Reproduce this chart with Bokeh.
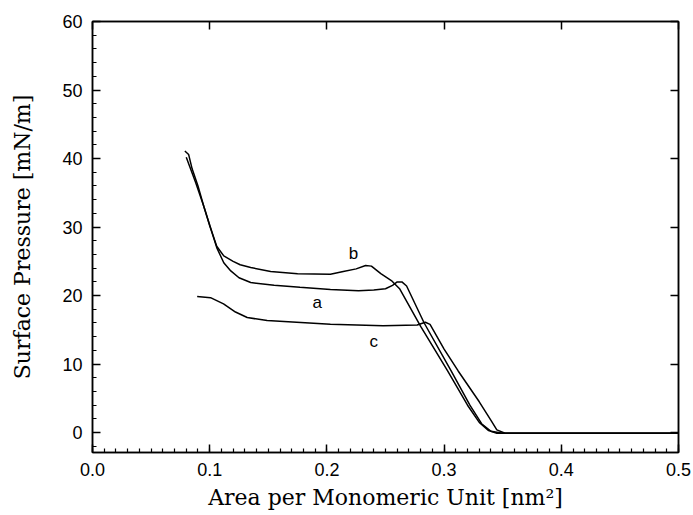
from bokeh.plotting import figure
from bokeh.models import (LinearAxis, SingleIntervalTicker, PrintfTickFormatter,
                          CustomJSTickFormatter, Range1d, Label)
from bokeh.embed import file_html
from bokeh.resources import INLINE

# Curve data (area per monomeric unit [nm^2], surface pressure [mN/m])
a_x = [0.0788, 0.082, 0.085, 0.090, 0.095, 0.100, 0.106, 0.112, 0.118, 0.125,
       0.135, 0.155, 0.177, 0.203, 0.227, 0.240, 0.250, 0.256, 0.260, 0.264,
       0.268, 0.283, 0.306, 0.322, 0.332, 0.340, 0.350, 0.500]
a_y = [41.1, 40.6, 38.5, 36.0, 33.0, 30.3, 27.0, 24.8, 23.6, 22.6,
       21.9, 21.5, 21.2, 20.9, 20.7, 20.8, 21.0, 21.5, 22.0, 22.0,
       21.4, 16.0, 9.0, 4.0, 1.3, 0.2, -0.1, -0.1]

b_x = [0.080, 0.088, 0.095, 0.100, 0.106, 0.112, 0.120, 0.126, 0.135, 0.152,
       0.175, 0.203, 0.214, 0.225, 0.233, 0.238, 0.246, 0.255, 0.262, 0.280,
       0.303, 0.320, 0.330, 0.338, 0.345, 0.500]
b_y = [40.2, 36.5, 33.0, 30.2, 27.2, 25.8, 25.0, 24.5, 24.1, 23.5,
       23.2, 23.1, 23.5, 23.9, 24.4, 24.3, 23.2, 22.2, 21.0, 15.5,
       9.0, 4.0, 1.5, 0.3, -0.1, -0.1]

c_x = [0.0893, 0.1007, 0.1118, 0.122, 0.132, 0.149, 0.203, 0.248, 0.277, 0.284,
       0.288, 0.300, 0.312, 0.330, 0.340, 0.345, 0.352, 0.500]
c_y = [19.85, 19.7, 18.8, 17.6, 16.8, 16.35, 15.8, 15.6, 15.7, 16.1,
       15.8, 12.2, 9.0, 4.5, 1.8, 0.4, -0.1, -0.1]

labels = ["a", "b", "c"]
label_x = [0.1917, 0.2227, 0.240]
label_y = [19.0, 26.1, 13.3]

x_title = "Area per Monomeric Unit [nm\u00b2]"
y_title = "Surface Pressure [mN/m]"

p = figure(width=693, height=515, output_backend="svg", toolbar_location=None,
           x_range=Range1d(0.0, 0.5), y_range=Range1d(-2.9, 60),
           min_border_left=92, min_border_right=15, min_border_top=21,
           min_border_bottom=63, x_axis_location=None, y_axis_location=None)
p.grid.visible = False
p.outline_line_color = "black"
p.outline_line_width = 1.5
p.background_fill_color = "white"
p.border_fill_color = "white"

serif = "DejaVu Serif"
sans = "Liberation Sans"

xax = LinearAxis(ticker=SingleIntervalTicker(interval=0.1, num_minor_ticks=10),
                 formatter=PrintfTickFormatter(format="%.1f"))
yax = LinearAxis(ticker=SingleIntervalTicker(interval=10, num_minor_ticks=5))
for ax, title in ((xax, x_title), (yax, y_title)):
    ax.axis_label = title
    ax.axis_label_text_font = serif
    ax.axis_label_text_font_style = "normal"
    ax.axis_label_text_font_size = "22px"
    ax.axis_label_text_color = "black"
    ax.major_label_text_font = sans
    ax.major_label_text_font_size = "18px"
    ax.major_label_text_color = "black"
    ax.major_label_standoff = 10
    ax.major_tick_in = 8
    ax.major_tick_out = 0
    ax.minor_tick_in = 4
    ax.minor_tick_out = 0
    ax.axis_line_width = 1.5
    ax.major_tick_line_width = 1.5
    ax.minor_tick_line_width = 1.2
xax.axis_label_standoff = 6
yax.axis_label_standoff = 24
p.add_layout(xax, "below")
p.add_layout(yax, "left")

blank = CustomJSTickFormatter(code="return '';")
for loc, tick in (("above", SingleIntervalTicker(interval=0.1, num_minor_ticks=0)),
                  ("right", SingleIntervalTicker(interval=10, num_minor_ticks=0))):
    ax = LinearAxis(ticker=tick, formatter=blank)
    ax.major_tick_in = 8
    ax.major_tick_out = 0
    ax.minor_tick_in = 0
    ax.minor_tick_out = 0
    ax.axis_line_width = 1.5
    ax.major_tick_line_width = 1.5
    ax.major_label_standoff = 0
    p.add_layout(ax, loc)

for xs, ys in ((a_x, a_y), (b_x, b_y), (c_x, c_y)):
    p.line(xs, ys, line_color="black", line_width=1.5)

for t, lx, ly in zip(labels, label_x, label_y):
    p.add_layout(Label(x=lx, y=ly, text=t, text_font=sans, text_font_size="17px",
                       text_color="black", text_align="center",
                       text_baseline="middle"))

open("out.html", "w").write(file_html(p, INLINE))
